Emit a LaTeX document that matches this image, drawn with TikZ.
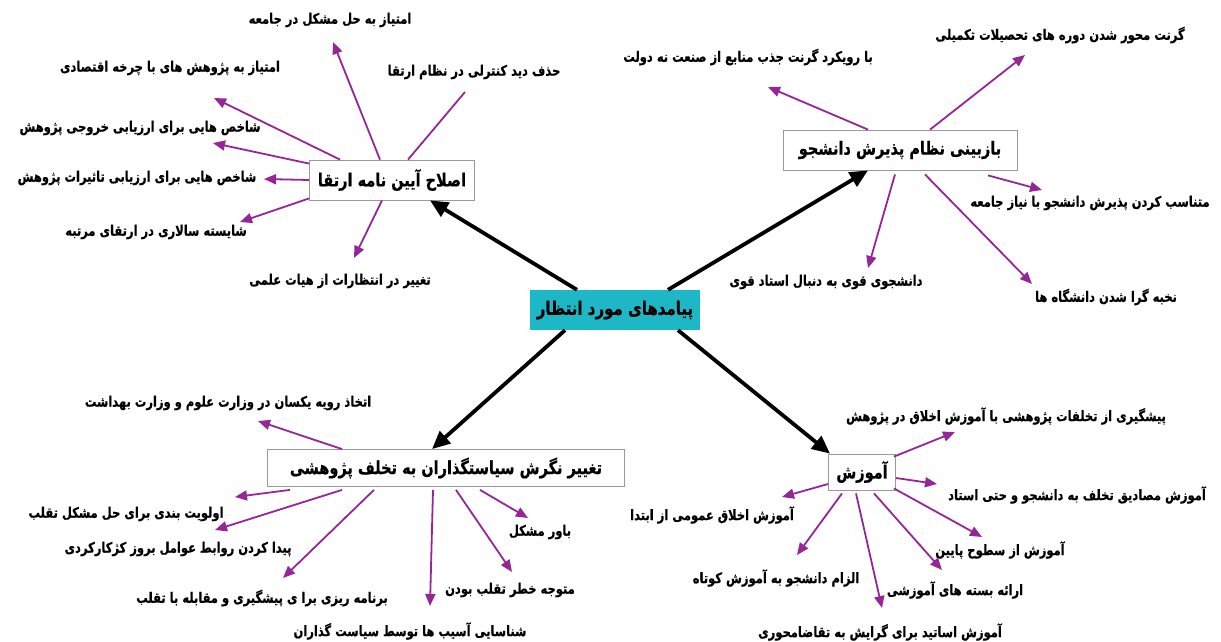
\documentclass[tikz,border=0pt]{standalone}
\usepackage{fontspec}
\usepackage{graphicx}
\usetikzlibrary{arrows.meta}
\newfontfamily\fa[Script=Arabic, BoldFeatures={FakeBold=0.6}]{DejaVu Sans}
\TeXXeTstate=1
\newcommand{\rtl}[1]{\scalebox{1}[1.25]{\beginR #1\endR}}
\definecolor{purp}{RGB}{150,38,152}
\definecolor{tealbox}{RGB}{30,183,197}
\begin{document}
\begin{tikzpicture}[x=1pt,y=-1pt,
  leaf/.style={font=\fa\bfseries\fontsize{11.5}{13}\selectfont, inner sep=0pt, text=black},
  boxnode/.style={draw=gray!80, line width=0.8pt, fill=white, inner sep=3pt,
     font=\fa\bfseries\fontsize{14.5}{16}\selectfont},
  centernode/.style={fill=tealbox, inner sep=3pt, font=\fa\bfseries\fontsize{15}{17}\selectfont},
  parr/.style={draw=purp, line width=1.8pt, -{Triangle[length=12pt,width=10pt]}},
  pline/.style={draw=purp, line width=1.8pt},
  barr/.style={draw=black, line width=3.8pt, -{Triangle[length=18pt,width=16pt]}}
]
\useasboundingbox (0,0) rectangle (1221,642);

% central
\node[centernode, minimum width=170pt, minimum height=40pt] (M) at (615,310) {\rtl{پیامدهای مورد انتظار}};

% boxes
\node[boxnode, minimum width=165pt, minimum height=40pt] (A) at (392,180) {\rtl{اصلاح آیین نامه ارتقا}};
\node[boxnode, minimum width=234pt, minimum height=40pt] (B) at (900,150) {\rtl{بازبینی نظام پذیرش دانشجو}};
\node[boxnode, minimum width=357pt, minimum height=37pt] (C) at (446,468) {\rtl{تغییر نگرش سیاستگذاران به تخلف پژوهشی}};
\node[boxnode, minimum width=67pt, minimum height=36pt] (D) at (862,472) {\rtl{آموزش}};

% black arrows
\draw[barr] ([xshift=-38pt]M.north) -- ([xshift=38pt]A.south);
\draw[barr] ([xshift=53pt]M.north) -- ([xshift=-32pt]B.south);
\draw[barr] ([xshift=-50pt]M.south) -- ([xshift=-14pt]C.north);
\draw[barr] ([xshift=63pt]M.south) -- ([xshift=-32pt]D.north);

% A leaves
\node[leaf] (a1) at (330,20) {\rtl{امتیاز به حل مشکل در جامعه}};
\node[leaf] (a2) at (170,68) {\rtl{امتیاز به پژوهش های با چرخه اقتصادی}};
\node[leaf] (a3) at (474,72) {\rtl{حذف دید کنترلی در نظام ارتقا}};
\node[leaf] (a4) at (140,128) {\rtl{شاخص هایی برای ارزیابی خروجی پژوهش}};
\node[leaf] (a5) at (137,178) {\rtl{شاخص هایی برای ارزیابی تاثیرات پژوهش}};
\node[leaf] (a6) at (156,232) {\rtl{شایسته سالاری در ارتقای مرتبه}};
\node[leaf] (a7) at (340,281) {\rtl{تغییر در انتظارات از هیات علمی}};
\coordinate (a1t) at (333,42);
\coordinate (a2t) at (214,98);
\coordinate (a3t) at (465,92);
\coordinate (a4t) at (213,143);
\coordinate (a5t) at (264,179);
\coordinate (a6t) at (240,222);
\coordinate (a7t) at (354,258);
\draw[parr] ([xshift=-12pt]A.north) -- (a1t);
\draw[parr] ([xshift=-52pt]A.north) -- (a2t);
\draw[pline] ([xshift=16pt]A.north) -- (a3t);
\draw[parr] ([yshift=-4pt]A.north west) -- (a4t);
\draw[parr] (A.west) -- (a5t);
\draw[parr] ([yshift=2pt]A.south west) -- (a6t);
\draw[parr] ([xshift=-10pt]A.south) -- (a7t);

% B leaves
\node[leaf] (b1) at (748,57) {\rtl{با رویکرد گرنت جذب منابع از صنعت نه دولت}};
\node[leaf] (b2) at (1060,35) {\rtl{گرنت محور شدن دوره های تحصیلات تکمیلی}};
\node[leaf] (b3) at (1090,203) {\rtl{متناسب کردن پذیرش دانشجو با نیاز جامعه}};
\node[leaf] (b4) at (826,282) {\rtl{دانشجوی قوی به دنبال استاد قوی}};
\node[leaf] (b5) at (1106,297) {\rtl{نخبه گرا شدن دانشگاه ها}};
\coordinate (b1t) at (768,87);
\coordinate (b2t) at (1025,55);
\coordinate (b3t) at (1042,190);
\coordinate (b4t) at (868,268);
\coordinate (b5t) at (1032,284);
\draw[parr] ([xshift=-32pt]B.north) -- (b1t);
\draw[parr] ([xshift=30pt]B.north) -- (b2t);
\draw[parr] ([xshift=88pt,yshift=-5pt]B.south) -- (b3t);
\draw[parr] ([xshift=-5pt,yshift=-4pt]B.south) -- (b4t);
\draw[parr] ([xshift=25pt,yshift=-4pt]B.south) -- (b5t);

% C leaves
\node[leaf] (c1) at (228,403) {\rtl{اتخاذ رویه یکسان در وزارت علوم و وزارت بهداشت}};
\node[leaf] (c2) at (126,514) {\rtl{اولویت بندی برای حل مشکل تقلب}};
\node[leaf] (c3) at (178,549) {\rtl{پیدا کردن روابط عوامل بروز کژکارکردی}};
\node[leaf] (c4) at (262,598) {\rtl{برنامه ریزی برا ی پیشگیری و مقابله با تقلب}};
\node[leaf] (c5) at (410,631) {\rtl{شناسایی آسیب ها توسط سیاست گذاران}};
\node[leaf] (c6) at (510,590) {\rtl{متوجه خطر تقلب بودن}};
\node[leaf] (c7) at (540,532) {\rtl{باور مشکل}};
\coordinate (c1t) at (258,421);
\coordinate (c2t) at (235,497);
\coordinate (c3t) at (215,530);
\coordinate (c4t) at (283,578);
\coordinate (c5t) at (430,606);
\coordinate (c6t) at (512,572);
\coordinate (c7t) at (528,518);
\draw[parr] ([xshift=-104pt]C.north) -- (c1t);
\draw[parr] ([xshift=-156pt,yshift=-3pt]C.south) -- (c2t);
\draw[parr] ([xshift=-104pt,yshift=-3pt]C.south) -- (c3t);
\draw[parr] ([xshift=-72pt,yshift=-3pt]C.south) -- (c4t);
\draw[parr] ([xshift=-13pt,yshift=-3pt]C.south) -- (c5t);
\draw[parr] ([xshift=10pt,yshift=-3pt]C.south) -- (c6t);
\draw[parr] ([xshift=34pt,yshift=-3pt]C.south) -- (c7t);

% D leaves
\node[leaf] (d1) at (1006,416) {\rtl{پیشگیری از تخلفات پژوهشی با آموزش اخلاق در پژوهش}};
\node[leaf] (d2) at (1077,495) {\rtl{آموزش مصادیق تخلف به دانشجو و حتی استاد}};
\node[leaf] (d3) at (712,515) {\rtl{آموزش اخلاق عمومی از ابتدا}};
\node[leaf] (d4) at (1000,550) {\rtl{آموزش از سطوح پایین}};
\node[leaf] (d5) at (776,578) {\rtl{الزام دانشجو به آموزش کوتاه}};
\node[leaf] (d6) at (955,590) {\rtl{ارائه بسته های آموزشی}};
\node[leaf] (d7) at (880,632) {\rtl{آموزش اساتید برای گرایش به تقاضامحوری}};
\coordinate (d1t) at (955,432);
\coordinate (d2t) at (937,484);
\coordinate (d3t) at (782,497);
\coordinate (d4t) at (982,537);
\coordinate (d5t) at (797,555);
\coordinate (d6t) at (942,570);
\coordinate (d7t) at (882,608);
\draw[parr] ([xshift=-2pt,yshift=-3pt]D.north east) -- (d1t);
\draw[parr] ([yshift=-6pt]D.east) -- (d2t);
\draw[parr] ([yshift=-12pt]D.west) -- (d3t);
\draw[parr] ([xshift=-2pt,yshift=2pt]D.south east) -- (d4t);
\draw[parr] ([xshift=-20pt,yshift=-3pt]D.south) -- (d5t);
\draw[parr] ([xshift=12pt,yshift=-3pt]D.south) -- (d6t);
\draw[parr] ([xshift=-6pt,yshift=-3pt]D.south) -- (d7t);
\end{tikzpicture}
\end{document}
